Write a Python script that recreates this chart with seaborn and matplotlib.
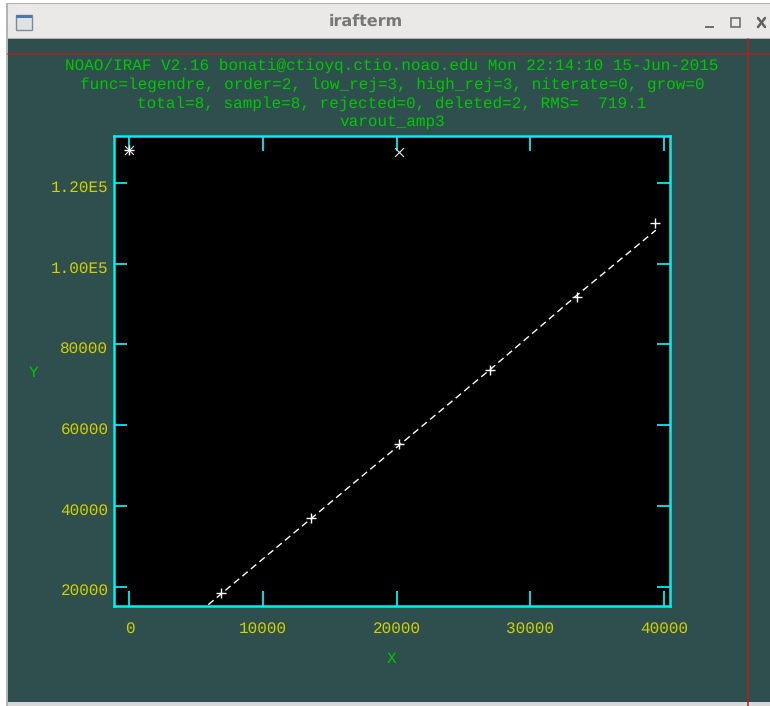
import matplotlib
matplotlib.use('Agg')
import matplotlib.pyplot as plt
from matplotlib.patches import Rectangle
from matplotlib.transforms import ScaledTranslation
import pandas as pd
import seaborn as sns

# values
fit_x = [5900, 13000, 20000, 27000, 33500, 39400]
fit_y = [15500, 35200, 54500, 73800, 92200, 108300]

good_x = [0, 6850, 13600, 20200, 27000, 33500, 39300]
good_y = [128200, 18400, 36900, 55200, 73600, 91800, 110000]

deleted_x = [0, 20200]
deleted_y = [128200, 127600]

x_ticks = [0, 10000, 20000, 30000, 40000]
x_labels = ['0', '10000', '20000', '30000', '40000']
y_ticks = [20000, 40000, 60000, 80000, 100000, 120000]
y_labels = ['20000', '40000', '60000', '80000', '1.00E5', '1.20E5']

title_lines = [
    'NOAO/IRAF V2.16 bonati@ctioyq.ctio.noao.edu Mon 22:14:10 15-Jun-2015',
    'func=legendre, order=2, low_rej=3, high_rej=3, niterate=0, grow=0',
    'total=8, sample=8, rejected=0, deleted=2, RMS=  719.1',
    'varout_amp3',
]

BG = '#2f4f4f'
GREEN = '#00c800'
YELLOW = '#d2d200'
CYAN = '#00f0f0'
RED = '#b02020'
FS = 11.53
W, H = 770, 706

sns.set_style('dark')
plt.rcParams['font.family'] = ['Liberation Mono', 'DejaVu Sans Mono']
plt.rcParams['text.hinting'] = 'none'

fit_df = pd.DataFrame({'x': fit_x, 'y': fit_y})
good_df = pd.DataFrame({'x': good_x, 'y': good_y})
deleted_df = pd.DataFrame({'x': deleted_x, 'y': deleted_y})

fig = plt.figure(figsize=(W / 100, H / 100), dpi=100, facecolor='white')

# window frame, drawn in pixel coordinates behind the plot
win = fig.add_axes([0, 0, 1, 1], zorder=-1)
win.set_xlim(0, W)
win.set_ylim(H, 0)
win.axis('off')
win.add_patch(Rectangle((7, 3), W - 7, 36, fc='#ebe9e7', ec='none'))
win.add_patch(Rectangle((6, 3), W - 6, 1, fc='#b0b0b0', ec='none'))
win.add_patch(Rectangle((6, 3), 2, H - 3, fc='#b4b4b4', ec='none'))
win.add_patch(Rectangle((8, 39), W - 8, 663, fc=BG, ec='none'))
win.add_patch(Rectangle((8, 38), W - 8, 1, fc='#b0b0b0', ec='none'))
win.add_patch(Rectangle((8, 702), W - 8, 4, fc='#d8d8d8', ec='none'))
win.axhline(53.5, xmin=8 / W, color=RED, lw=1.1)
win.axvline(748, ymin=0, ymax=1 - 39 / H, color=RED, lw=1.1)

# title bar icons
win.add_patch(Rectangle((16, 15), 16, 15, fc='#dfe3e6', ec='#7f8c96', lw=1))
win.add_patch(Rectangle((16, 15), 16, 3, fc='#4a78a8', ec='none'))
win.add_patch(Rectangle((705, 26), 9, 2, fc='#707070', ec='none'))
win.add_patch(Rectangle((731, 18), 9, 9, fc='none', ec='#707070', lw=1.2))
win.plot([758, 765], [18, 27], color='#606060', lw=1.8)
win.plot([758, 765], [27, 18], color='#606060', lw=1.8)
win.text(366, 21, 'irafterm', ha='center', va='center', color='#777777',
         fontsize=11.5, fontweight='bold', family='DejaVu Sans')

# plot box
ax = fig.add_axes([114 / W, 1 - 606 / H, 556 / W, 470 / H])
ax.set_facecolor('black')

sns.lineplot(data=fit_df, x='x', y='y', ax=ax, color='white', lw=1,
             linestyle=(0, (5, 3)), zorder=2)
sns.scatterplot(data=good_df, x='x', y='y', ax=ax, marker='+', s=60,
                color='white', linewidth=1, zorder=3)
sns.scatterplot(data=deleted_df, x='x', y='y', ax=ax, marker='x', s=40,
                color='#e8e8e8', linewidth=0.8, zorder=3)

ax.set_xlim(-1160, 40460)
ax.set_ylim(15170, 131650)
ax.set_xticks(x_ticks)
ax.set_xticklabels(x_labels)
ax.set_yticks(y_ticks)
ax.set_yticklabels(y_labels)
ax.grid(False)

ax.tick_params(axis='x', direction='in', top=True, bottom=True, length=10.5,
               width=1.3, color=CYAN, labelcolor=YELLOW, labelsize=FS, pad=11)
ax.tick_params(axis='y', direction='in', left=True, right=True, length=9.5,
               width=1.3, color=CYAN, labelcolor=YELLOW, labelsize=FS, pad=4)
for spine in ax.spines.values():
    spine.set_color(CYAN)
    spine.set_linewidth(1.8)

# y tick labels sit a little under their ticks in the original
for label in ax.get_yticklabels():
    label.set_transform(label.get_transform() + ScaledTranslation(0, -3 / 100, fig.dpi_scale_trans))

ax.set_xlabel('X', color=GREEN, fontsize=FS, labelpad=11)
ax.set_ylabel('Y', color=GREEN, fontsize=FS, rotation=0, va='center')
ax.yaxis.set_label_coords((34 - 114) / 556, (606 - 373) / 470)
ax.set_title('\n'.join(title_lines), color=GREEN, fontsize=FS, linespacing=1.34, pad=7)

fig.savefig('out.png', dpi=100, facecolor='white')
